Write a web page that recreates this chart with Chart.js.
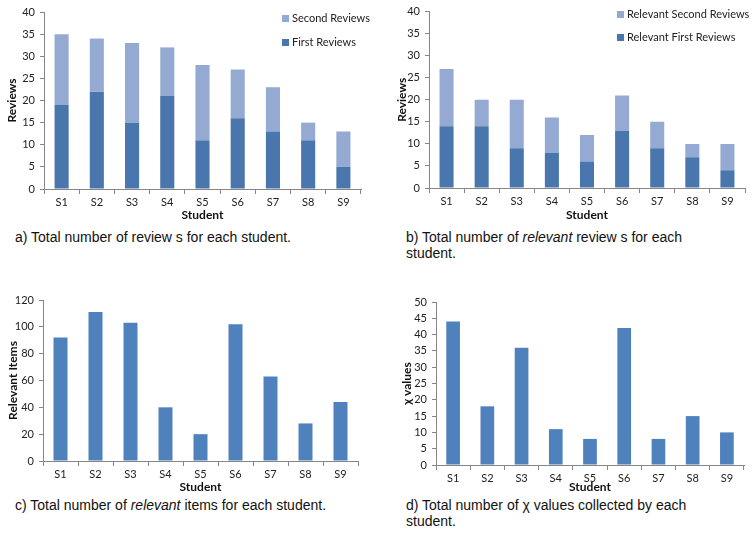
<!DOCTYPE html>
<html>
<head>
<meta charset="utf-8">
<script src="https://cdn.jsdelivr.net/npm/chart.js@4"></script>
<style>
  body { margin: 0; background: #fff; width: 754px; height: 539px; position: relative; overflow: hidden; }
  canvas { position: absolute; }
  .cap { position: absolute; font-family: "Liberation Sans", Arial, sans-serif; font-size: 14px; line-height: 16px; color: #111; white-space: nowrap; background: #fff; }
  .leg { position: absolute; font-family: Lato, "Noto Sans", sans-serif; font-size: 11px; color: #222; white-space: nowrap; }
  .leg span.box { display: inline-block; width: 7px; height: 7px; margin-right: 3px; vertical-align: 0px; }
</style>
</head>
<body>
<canvas id="chartA" width="377" height="222" style="left:0;top:0"></canvas>
<canvas id="chartB" width="377" height="222" style="left:377px;top:0"></canvas>
<canvas id="chartC" width="377" height="216" style="left:0;top:278px"></canvas>
<canvas id="chartD" width="377" height="216" style="left:377px;top:278px"></canvas>

<div class="leg" style="left:282px;top:11px"><span class="box" style="background:#95AAD3"></span>Second Reviews</div>
<div class="leg" style="left:282px;top:35px"><span class="box" style="background:#4A76AE"></span>First Reviews</div>
<div class="leg" style="left:617px;top:7px"><span class="box" style="background:#95AAD3"></span>Relevant Second Reviews</div>
<div class="leg" style="left:617px;top:30px"><span class="box" style="background:#4A76AE"></span>Relevant First Reviews</div>

<div class="cap" style="left:15px;top:229px">a) Total number of review s for each student.</div>
<div class="cap" style="left:406px;top:229px">b) Total number of <i>relevant</i> review s for each<br>student.</div>
<div class="cap" style="left:15px;top:497px">c) Total number of <i>relevant</i> items for each student.</div>
<div class="cap" style="left:406px;top:497px">d) Total number of χ values collected by each<br>student.</div>

<script>
// categorias
const students = ["S1", "S2", "S3", "S4", "S5", "S6", "S7", "S8", "S9"];

// a) reseñas totales
const firstReviews = [19, 22, 15, 21, 11, 16, 13, 11, 5];
const secondReviews = [16, 12, 18, 11, 17, 11, 10, 4, 8];

// b) reseñas relevantes
const relevantFirst = [14, 14, 9, 8, 6, 13, 9, 7, 4];
const relevantSecond = [13, 6, 11, 8, 6, 8, 6, 3, 6];

// c) items relevantes
const relevantItems = [92, 111, 103, 40, 20, 102, 63, 28, 44];

// d) valores chi
const chiValues = [44, 18, 36, 11, 8, 42, 8, 15, 10];

const darkBlue = "#4A76AE";
const lightBlue = "#95AAD3";
const barBlue = "#4F81BD";
const fontName = "Lato, 'Noto Sans', sans-serif";
const axisGrey = "#868686";

Chart.defaults.font.family = fontName;
Chart.defaults.color = "#222";

// Opciones comunes, con ancho del eje y y alto del eje x fijos
function opciones(cfg) {
    return {
        responsive: false,
        animation: false,
        layout: { padding: cfg.padding },
        plugins: { legend: { display: false }, tooltip: { enabled: false } },
        scales: {
            x: {
                stacked: cfg.stacked,
                grid: { display: true, drawOnChartArea: false, drawTicks: true, tickLength: 5, color: axisGrey, offset: true },
                border: { color: axisGrey },
                ticks: { font: { size: 11 }, padding: 2, maxRotation: 0 },
                title: { display: true, text: "Student", font: { size: 12, weight: "bold" }, padding: { top: 0, bottom: 0 }, color: "#111" },
                afterFit: function (s) { s.height = cfg.xHeight; }
            },
            y: {
                stacked: cfg.stacked,
                min: 0,
                max: cfg.max,
                grid: { display: true, drawOnChartArea: false, drawTicks: true, tickLength: 4, color: axisGrey },
                border: { color: axisGrey },
                ticks: { stepSize: cfg.step, font: { size: 11 }, padding: 5 },
                title: { display: true, text: cfg.yTitle, font: { size: 12, weight: "bold" }, padding: 0, color: "#111" },
                afterFit: function (s) { s.width = cfg.yWidth; }
            }
        }
    };
}

// a) Reseñas totales por estudiante
new Chart("chartA", {
    type: "bar",
    data: {
        labels: students,
        datasets: [
            { label: "First Reviews", data: firstReviews, backgroundColor: darkBlue, barPercentage: 0.4, categoryPercentage: 1 },
            { label: "Second Reviews", data: secondReviews, backgroundColor: lightBlue, barPercentage: 0.4, categoryPercentage: 1 }
        ]
    },
    options: opciones({ stacked: true, max: 40, step: 5, yTitle: "Reviews", padding: { left: 5, top: 12, right: 16, bottom: 0 }, yWidth: 39, xHeight: 33 })
});

// b) Reseñas relevantes por estudiante
new Chart("chartB", {
    type: "bar",
    data: {
        labels: students,
        datasets: [
            { label: "Relevant First Reviews", data: relevantFirst, backgroundColor: darkBlue, barPercentage: 0.4, categoryPercentage: 1 },
            { label: "Relevant Second Reviews", data: relevantSecond, backgroundColor: lightBlue, barPercentage: 0.4, categoryPercentage: 1 }
        ]
    },
    options: opciones({ stacked: true, max: 40, step: 5, yTitle: "Reviews", padding: { left: 18, top: 11, right: 9, bottom: 0 }, yWidth: 34, xHeight: 34 })
});

// c) Items relevantes
new Chart("chartC", {
    type: "bar",
    data: {
        labels: students,
        datasets: [{ label: "Relevant Items", data: relevantItems, backgroundColor: barBlue, barPercentage: 0.4, categoryPercentage: 1 }]
    },
    options: opciones({ stacked: false, max: 120, step: 20, yTitle: "Relevant Items", padding: { left: 6, top: 22, right: 19, bottom: 0 }, yWidth: 37, xHeight: 33 })
});

// d) Valores chi
new Chart("chartD", {
    type: "bar",
    data: {
        labels: students,
        datasets: [{ label: "χ values", data: chiValues, backgroundColor: barBlue, barPercentage: 0.4, categoryPercentage: 1 }]
    },
    options: opciones({ stacked: false, max: 50, step: 5, yTitle: "χ values", padding: { left: 23, top: 24, right: 10, bottom: 0 }, yWidth: 36, xHeight: 29 })
});
</script>
</body>
</html>
